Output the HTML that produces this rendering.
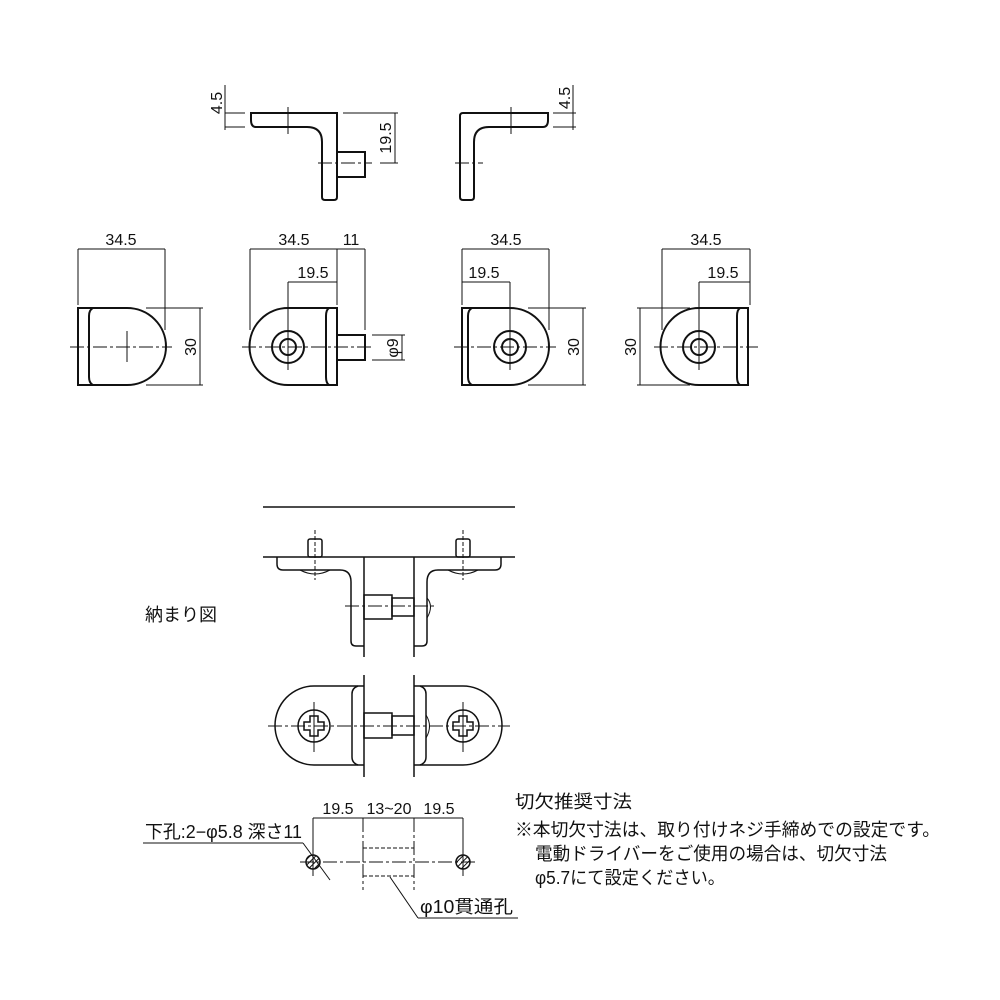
<!DOCTYPE html>
<html><head><meta charset="utf-8"><style>
html,body{margin:0;padding:0;background:#fff;}
svg{display:block;}
text{font-family:"Liberation Sans","Noto Sans CJK JP",sans-serif;fill:#111;}
.o{fill:none;stroke:#111;stroke-width:2;}
.t{fill:none;stroke:#111;stroke-width:1;}
.c{fill:none;stroke:#111;stroke-width:1;stroke-dasharray:14,3,3,3;}
.d{fill:none;stroke:#111;stroke-width:1;stroke-dasharray:4,2;}
.n{font-size:16px;}
.j{font-size:18px;}
</style></head><body>
<svg width="1000" height="1000" viewBox="0 0 1000 1000" xmlns="http://www.w3.org/2000/svg">
<defs>
<pattern id="h" width="4" height="4" patternUnits="userSpaceOnUse" patternTransform="rotate(45)"><line x1="0" y1="0" x2="0" y2="4" stroke="#111" stroke-width="2"/></pattern>
</defs>

<!-- TOP ROW: left L bracket -->
<path class="o" d="M251,113 H337 V197 Q337,200 334,200 H325 Q322,200 322,197 V142 Q322,127 307,127 H256 Q251,127 251,120 Z"/>
<rect class="o" x="337" y="152" width="28" height="25"/>
<line class="t" x1="288" y1="107" x2="288" y2="134"/>
<line class="c" x1="318" y1="163" x2="372" y2="163"/>
<line class="t" x1="225" y1="85" x2="225" y2="130"/>
<line class="t" x1="225" y1="113" x2="245" y2="113"/>
<line class="t" x1="225" y1="127" x2="245" y2="127"/>
<text class="n" transform="translate(222,103) rotate(-90)" text-anchor="middle">4.5</text>
<line class="t" x1="343" y1="113" x2="398" y2="113"/>
<line class="t" x1="380" y1="163" x2="398" y2="163"/>
<line class="t" x1="395" y1="113" x2="395" y2="163"/>
<text class="n" transform="translate(391,138) rotate(-90)" text-anchor="middle">19.5</text>

<!-- TOP ROW: right L bracket -->
<path class="o" d="M548,113 H463 Q460,113 460,116 V197 Q460,200 463,200 H471 Q474,200 474,197 V142 Q474,127 489,127 H543 Q548,127 548,120 Z"/>
<line class="t" x1="511" y1="107" x2="511" y2="134"/>
<line class="c" x1="455" y1="163" x2="483" y2="163"/>
<line class="t" x1="573" y1="85" x2="573" y2="130"/>
<line class="t" x1="553" y1="113" x2="576" y2="113"/>
<line class="t" x1="553" y1="127" x2="576" y2="127"/>
<text class="n" transform="translate(570,98) rotate(-90)" text-anchor="middle">4.5</text>

<!-- ROW 2 view 1 -->
<path class="o" d="M78,308 H127 A39,38.5 0 0 1 127,385 H78 Z"/>
<path class="o" d="M93,308 Q89,310 89,316 V377 Q89,383 93,385"/>
<line class="c" x1="70" y1="347" x2="172" y2="347"/>
<line class="t" x1="127" y1="331" x2="127" y2="362"/>
<line class="t" x1="78" y1="249" x2="165" y2="249"/>
<line class="t" x1="78" y1="249" x2="78" y2="305"/>
<line class="t" x1="165" y1="249" x2="165" y2="330"/>
<text class="n" x="121" y="245" text-anchor="middle">34.5</text>
<line class="t" x1="146" y1="308" x2="203" y2="308"/>
<line class="t" x1="146" y1="385" x2="203" y2="385"/>
<line class="t" x1="200" y1="308" x2="200" y2="385"/>
<text class="n" transform="translate(196,347) rotate(-90)" text-anchor="middle">30</text>

<!-- ROW 2 view 2 -->
<path class="o" d="M337,308 H288 A38.5,38.5 0 0 0 288,385 H337 Z"/>
<path class="o" d="M329,308 Q326,310 326,316 V377 Q326,383 329,385"/>
<rect class="o" x="337" y="335" width="28" height="25"/>
<circle class="o" cx="288" cy="347" r="16"/>
<circle class="o" cx="288" cy="347" r="8"/>
<line class="c" x1="242" y1="347" x2="372" y2="347"/>
<line class="t" x1="288" y1="282" x2="288" y2="370"/>
<line class="t" x1="250" y1="249" x2="365" y2="249"/>
<line class="t" x1="250" y1="249" x2="250" y2="330"/>
<line class="t" x1="337" y1="249" x2="337" y2="305"/>
<line class="t" x1="365" y1="249" x2="365" y2="330"/>
<line class="t" x1="288" y1="282" x2="337" y2="282"/>
<text class="n" x="294" y="245" text-anchor="middle">34.5</text>
<text class="n" x="351" y="245" text-anchor="middle">11</text>
<text class="n" x="313" y="278" text-anchor="middle">19.5</text>
<line class="t" x1="372" y1="335" x2="405" y2="335"/>
<line class="t" x1="372" y1="360" x2="405" y2="360"/>
<line class="t" x1="402" y1="335" x2="402" y2="360"/>
<text class="n" transform="translate(398,348) rotate(-90)" text-anchor="middle">φ9</text>

<!-- ROW 2 view 3 -->
<path class="o" d="M462,308 H510 A39,38.5 0 0 1 510,385 H462 Z"/>
<path class="o" d="M472,308 Q468,310 468,316 V377 Q468,383 472,385"/>
<circle class="o" cx="510" cy="347" r="16"/>
<circle class="o" cx="510" cy="347" r="8"/>
<line class="c" x1="454" y1="347" x2="556" y2="347"/>
<line class="t" x1="510" y1="282" x2="510" y2="370"/>
<line class="t" x1="462" y1="249" x2="549" y2="249"/>
<line class="t" x1="462" y1="249" x2="462" y2="305"/>
<line class="t" x1="549" y1="249" x2="549" y2="330"/>
<line class="t" x1="462" y1="282" x2="510" y2="282"/>
<text class="n" x="506" y="245" text-anchor="middle">34.5</text>
<text class="n" x="484" y="278" text-anchor="middle">19.5</text>
<line class="t" x1="528" y1="308" x2="586" y2="308"/>
<line class="t" x1="528" y1="385" x2="586" y2="385"/>
<line class="t" x1="583" y1="308" x2="583" y2="385"/>
<text class="n" transform="translate(579,347) rotate(-90)" text-anchor="middle">30</text>

<!-- ROW 2 view 4 -->
<path class="o" d="M748,308 H699 A38.5,38.5 0 0 0 699,385 H748 Z"/>
<path class="o" d="M740,308 Q737,310 737,316 V377 Q737,383 740,385"/>
<circle class="o" cx="699" cy="347" r="16"/>
<circle class="o" cx="699" cy="347" r="8"/>
<line class="c" x1="654" y1="347" x2="758" y2="347"/>
<line class="t" x1="699" y1="282" x2="699" y2="370"/>
<line class="t" x1="662" y1="249" x2="750" y2="249"/>
<line class="t" x1="662" y1="249" x2="662" y2="330"/>
<line class="t" x1="750" y1="249" x2="750" y2="305"/>
<line class="t" x1="699" y1="282" x2="750" y2="282"/>
<text class="n" x="706" y="245" text-anchor="middle">34.5</text>
<text class="n" x="723" y="278" text-anchor="middle">19.5</text>
<line class="t" x1="637" y1="308" x2="690" y2="308"/>
<line class="t" x1="637" y1="385" x2="690" y2="385"/>
<line class="t" x1="640" y1="308" x2="640" y2="385"/>
<text class="n" transform="translate(636,347) rotate(-90)" text-anchor="middle">30</text>

<!-- INSTALLATION front -->
<text class="j" x="145" y="621">納まり図</text>
<line class="o" x1="263" y1="507" x2="515" y2="507" style="stroke-width:1.5"/>
<line class="o" x1="263" y1="557" x2="515" y2="557" style="stroke-width:1.5"/>
<line class="o" x1="364" y1="557" x2="364" y2="657" style="stroke-width:1.5"/>
<line class="o" x1="414" y1="557" x2="414" y2="657" style="stroke-width:1.5"/>
<path class="o" d="M277,557 V564 Q277,570 283,570 H340 Q351,570 351,582 V641 Q351,646 356,646 H364" style="stroke-width:1.5"/>
<path class="o" d="M501,557 V564 Q501,570 495,570 H438 Q427,570 427,582 V641 Q427,646 422,646 H414" style="stroke-width:1.5"/>
<path class="t" d="M300,570 Q315,578 330,570"/>
<path class="t" d="M448,570 Q463,578 478,570"/>
<path class="t" d="M427,598 Q434,606 427,618"/>
<rect class="o" x="308" y="539" width="14" height="18" rx="2" style="stroke-width:1.5"/>
<rect class="o" x="456" y="539" width="14" height="18" rx="2" style="stroke-width:1.5"/>
<line class="d" x1="315" y1="530" x2="315" y2="580"/>
<line class="d" x1="463" y1="530" x2="463" y2="580"/>
<rect class="o" x="364" y="595" width="28" height="24" style="stroke-width:1.5"/>
<rect class="o" x="392" y="598" width="22" height="18" style="stroke-width:1.5"/>
<line class="c" x1="345" y1="606" x2="435" y2="606"/>

<!-- INSTALLATION bottom -->
<line class="o" x1="364" y1="675" x2="364" y2="777" style="stroke-width:1.5"/>
<line class="o" x1="414" y1="675" x2="414" y2="777" style="stroke-width:1.5"/>
<path class="o" d="M364,686 H314 A39,39.5 0 0 0 314,765 H364" style="stroke-width:1.5"/>
<path class="o" d="M358,686 Q352,688 352,694 V757 Q352,763 358,765" style="stroke-width:1.5"/>
<path class="o" d="M414,686 H463 A39,39.5 0 0 1 463,765 H414" style="stroke-width:1.5"/>
<path class="o" d="M420,686 Q426,688 426,694 V757 Q426,763 420,765" style="stroke-width:1.5"/>
<circle class="o" cx="314" cy="726" r="16" style="stroke-width:1.5"/>
<circle class="o" cx="463" cy="726" r="16" style="stroke-width:1.5"/>
<path class="o" d="M310,716 h8 v6 h6 v8 h-6 v6 h-8 v-6 h-6 v-8 h6 z" style="stroke-width:1.5"/>
<path class="o" d="M459,716 h8 v6 h6 v8 h-6 v6 h-8 v-6 h-6 v-8 h6 z" style="stroke-width:1.5"/>
<rect class="o" x="364" y="713" width="28" height="25" style="stroke-width:1.5"/>
<rect class="o" x="392" y="716" width="22" height="19" style="stroke-width:1.5"/>
<path class="t" d="M426,715 Q433,726 426,738"/>
<line class="c" x1="268" y1="726" x2="510" y2="726"/>
<line class="t" x1="314" y1="702" x2="314" y2="752"/>
<line class="t" x1="463" y1="702" x2="463" y2="752"/>

<!-- CUTOUT -->
<line class="t" x1="313" y1="818" x2="463" y2="818"/>
<line class="t" x1="313" y1="818" x2="313" y2="876"/>
<line class="t" x1="463" y1="818" x2="463" y2="876"/>
<line class="c" x1="363" y1="818" x2="363" y2="890"/>
<line class="c" x1="414" y1="818" x2="414" y2="890"/>
<text class="n" x="338" y="814" text-anchor="middle">19.5</text>
<text class="n" x="389" y="814" text-anchor="middle">13~20</text>
<text class="n" x="439" y="814" text-anchor="middle">19.5</text>
<line class="c" x1="300" y1="862" x2="476" y2="862"/>
<line class="t" x1="363" y1="848" x2="363" y2="862"/>
<line class="d" x1="363" y1="848" x2="414" y2="848"/>
<line class="d" x1="363" y1="876" x2="414" y2="876"/>
<circle cx="313" cy="862" r="7" fill="url(#h)" stroke="#111" stroke-width="1.5"/>
<circle cx="463" cy="862" r="7" fill="url(#h)" stroke="#111" stroke-width="1.5"/>
<text class="j" x="145" y="838" textLength="157" lengthAdjust="spacingAndGlyphs">下孔:2−φ5.8 深さ11</text>
<line class="t" x1="143" y1="843" x2="303" y2="843"/>
<line class="t" x1="303" y1="843" x2="330" y2="880"/>
<line class="t" x1="390" y1="877" x2="418" y2="918"/>
<line class="t" x1="418" y1="918" x2="518" y2="918"/>
<text class="j" x="420" y="913" textLength="93" lengthAdjust="spacingAndGlyphs">φ10貫通孔</text>

<text class="j" x="515" y="808" textLength="117" lengthAdjust="spacingAndGlyphs">切欠推奨寸法</text>
<text class="j" x="515" y="836" textLength="425" lengthAdjust="spacingAndGlyphs">※本切欠寸法は、取り付けネジ手締めでの設定です。</text>
<text class="j" x="535" y="860" textLength="352" lengthAdjust="spacingAndGlyphs">電動ドライバーをご使用の場合は、切欠寸法</text>
<text class="j" x="535" y="884" textLength="190" lengthAdjust="spacingAndGlyphs">φ5.7にて設定ください。</text>
</svg>
</body></html>
